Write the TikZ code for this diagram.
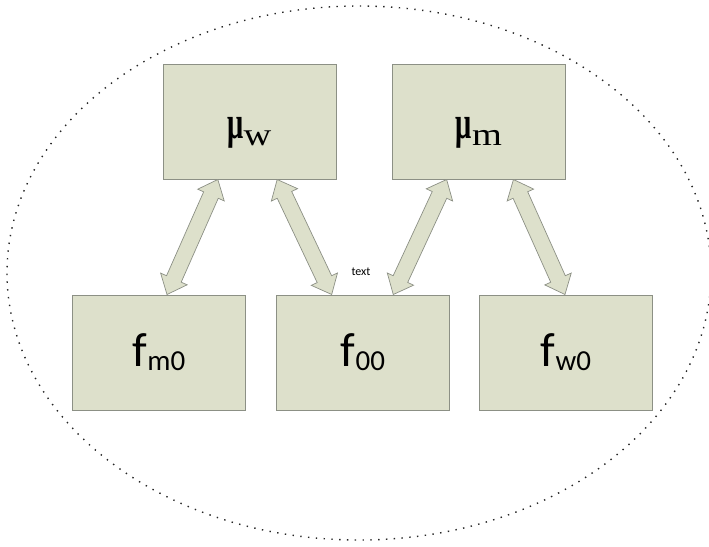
\documentclass[tikz,border=0pt]{standalone}
\usepackage{fontspec}
\setmainfont{Carlito}
\newfontfamily\serifmu{Liberation Serif}
\newfontfamily\serifmub{Liberation Serif Bold}
\usetikzlibrary{calc}
\definecolor{boxfill}{HTML}{DDE0CB}
\definecolor{boxline}{HTML}{8C9085}
\newcommand\mysym{\scalebox{0.62}[1]{\serifmub\fontsize{46}{48}\selectfont μ}}
\newcommand\mysub[1]{\raisebox{-7pt}{\scalebox{1.2}[1]{\serifmu\fontsize{32}{34}\selectfont #1}}}
\tikzset{
  box/.style={draw=boxline, fill=boxfill, line width=1pt, minimum width=173pt, minimum height=115pt, inner sep=0pt},
  blockarr/.style={draw=boxline, fill=boxfill, line width=0.7pt, line join=miter},
  flabel/.style={font=\fontsize{48}{50}\selectfont},
  mulabel/.style={inner sep=0pt},
  outline/.style={draw=black!85, line width=1.4pt, dash pattern=on 1.4pt off 6.4pt},
}
\newcommand\dblarrow[2]{%
  \path[blockarr] (#1)
    -- ($(#1)!17pt!(#2)!14.5pt!90:(#2)$)
    -- ($(#1)!17pt!(#2)!8pt!90:(#2)$)
    -- ($(#2)!17pt!(#1)!8pt!-90:(#1)$)
    -- ($(#2)!17pt!(#1)!14.5pt!-90:(#1)$)
    -- (#2)
    -- ($(#2)!17pt!(#1)!14.5pt!90:(#1)$)
    -- ($(#2)!17pt!(#1)!8pt!90:(#1)$)
    -- ($(#1)!17pt!(#2)!8pt!-90:(#2)$)
    -- ($(#1)!17pt!(#2)!14.5pt!-90:(#2)$)
    -- cycle;}
\begin{document}
\begin{tikzpicture}[x=1pt,y=-1pt]
  \clip (0,0) rectangle (709,546);
  \draw[outline] (359,273) ellipse [x radius=352, y radius=267];
  \node[box] (mw) at (249.5,121.5) {};
  \node[box] (mm) at (479,121.5) {};
  \node[mulabel, anchor=base] (mwl) at (249.5,138) {\mysym\mysub{w}};
  \node[mulabel, anchor=base] (mml) at (479,138) {\mysym\mysub{m}};
  \node[box, flabel] (fm0) at (159,352.5) {f\raisebox{-4pt}{\fontsize{29}{30}\selectfont m0}};
  \node[box, flabel] (f00) at (363,352.5) {f\raisebox{-4pt}{\fontsize{29}{30}\selectfont 00}};
  \node[box, flabel] (fw0) at (566,352.5) {f\raisebox{-4pt}{\fontsize{29}{30}\selectfont w0}};
  \coordinate (a1t) at ($(mw.south west)!0.318!(mw.south east)$);
  \coordinate (a1b) at ($(fm0.north west)!0.546!(fm0.north east)$);
  \coordinate (a2t) at ($(mw.south west)!0.659!(mw.south east)$);
  \coordinate (a2b) at ($(f00.north west)!0.32!(f00.north east)$);
  \coordinate (a3t) at ($(mm.south west)!0.314!(mm.south east)$);
  \coordinate (a3b) at ($(f00.north west)!0.674!(f00.north east)$);
  \coordinate (a4t) at ($(mm.south west)!0.698!(mm.south east)$);
  \coordinate (a4b) at ($(fw0.north west)!0.494!(fw0.north east)$);
  \dblarrow{a1t}{a1b}
  \dblarrow{a2t}{a2b}
  \dblarrow{a3t}{a3b}
  \dblarrow{a4t}{a4b}
  \node[font=\fontsize{12}{13}\selectfont] (lbl) at (361,272) {text};
\end{tikzpicture}
\end{document}
